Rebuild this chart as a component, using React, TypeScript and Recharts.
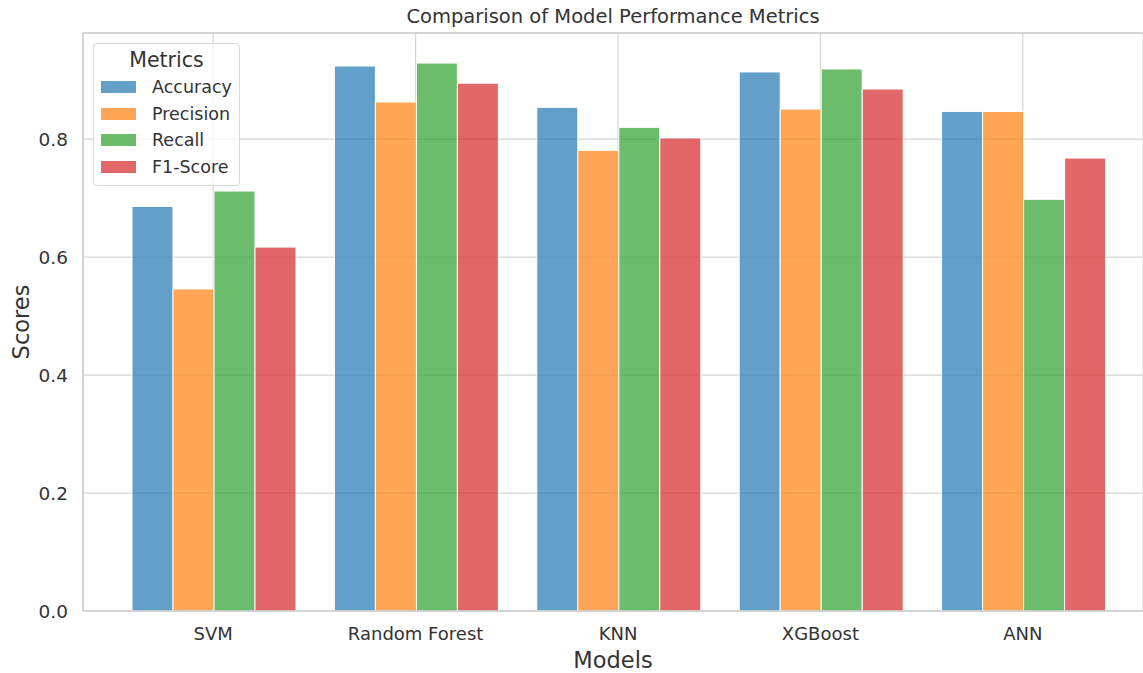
import React from 'react';
import { BarChart, Bar, XAxis, YAxis, CartesianGrid, ReferenceLine } from 'recharts';

const models = ['SVM', 'Random Forest', 'KNN', 'XGBoost', 'ANN'];
const accuracy = [0.686, 0.924, 0.854, 0.914, 0.847];
const precision = [0.546, 0.863, 0.781, 0.851, 0.847];
const recall = [0.712, 0.929, 0.820, 0.919, 0.698];
const f1Score = [0.617, 0.895, 0.802, 0.885, 0.768];
const yTicks = [0, 0.2, 0.4, 0.6, 0.8];

const metrics = [
    { key: 'Accuracy', color: '#1f77b4' },
    { key: 'Precision', color: '#ff7f0e' },
    { key: 'Recall', color: '#2ca02c' },
    { key: 'F1-Score', color: '#d62728' },
];

const data = models.map((model, i) => ({
    model,
    Accuracy: accuracy[i],
    Precision: precision[i],
    Recall: recall[i],
    'F1-Score': f1Score[i],
}));

const FONT = '"DejaVu Sans", sans-serif';

// rotated y label, placed by hand so it does not hug the page edge
const ScoresLabel = (props: any) => {
    const vb = props.viewBox || { x: 0, y: 33, width: 83, height: 578 };
    const cx = 21;
    const cy = vb.y + vb.height / 2;
    return (
        <text
            x={cx}
            y={cy}
            transform={`rotate(-90, ${cx}, ${cy})`}
            textAnchor="middle"
            dominantBaseline="central"
            fontSize={22.5}
            fill="#333"
            fontFamily={FONT}
        >
            Scores
        </text>
    );
};

// legend box drawn on top of the plot, upper left like the matplotlib one
const MetricsLegend = () => (
    <div
        style={{
            position: 'absolute',
            left: 93,
            top: 43,
            width: 147,
            height: 143,
            boxSizing: 'border-box',
            border: '1px solid #d9d9d9',
            borderRadius: 4,
            background: 'rgba(255,255,255,0.8)',
            padding: '4px 0 0 7px',
            fontFamily: FONT,
            color: '#333',
        }}
    >
        <div style={{ textAlign: 'center', fontSize: 20.5, marginBottom: 2, paddingRight: 7 }}>Metrics</div>
        {metrics.map((m) => (
            <div key={m.key} style={{ display: 'flex', alignItems: 'center', height: 26.5, fontSize: 17.5 }}>
                <span
                    style={{
                        display: 'inline-block',
                        width: 35,
                        height: 12,
                        background: m.color,
                        opacity: 0.7,
                        marginRight: 16,
                    }}
                />
                {m.key}
            </div>
        ))}
    </div>
);

const App: React.FC = () => {
    return (
        <div style={{ position: 'absolute', left: 0, top: 0, width: 1143, height: 673, background: '#fff', fontFamily: FONT }}>
            <div
                style={{
                    position: 'absolute',
                    top: 5,
                    left: 83,
                    width: 1060,
                    textAlign: 'center',
                    fontSize: 19.5,
                    color: '#333',
                }}
            >
                Comparison of Model Performance Metrics
            </div>
            <BarChart
                width={1143}
                height={673}
                data={data}
                margin={{ top: 33, right: 0, left: 0, bottom: 0 }}
                barCategoryGap={20}
                barGap={0}
            >
                <CartesianGrid stroke="#d5d5d5" strokeWidth={1.2} vertical horizontal />
                <XAxis
                    dataKey="model"
                    height={62}
                    padding={{ left: 29, right: 19 }}
                    axisLine={{ stroke: '#cccccc', strokeWidth: 1.5 }}
                    tickLine={false}
                    tick={{ fontSize: 18, fill: '#333', fontFamily: FONT }}
                    dy={8}
                    label={{ value: 'Models', position: 'insideBottom', offset: 5, fontSize: 22.5, fill: '#333', fontFamily: FONT }}
                />
                <YAxis
                    width={83}
                    domain={[0, 0.98]}
                    ticks={yTicks}
                    allowDataOverflow
                    axisLine={{ stroke: '#cccccc', strokeWidth: 1.5 }}
                    tickLine={false}
                    tickFormatter={(v: number) => v.toFixed(1)}
                    tick={{ fontSize: 18.5, fill: '#333', fontFamily: FONT }}
                    dx={-7}
                    label={<ScoresLabel />}
                />
                <ReferenceLine y={0.98} stroke="#cccccc" strokeWidth={1.5} />
                {metrics.map((m) => (
                    <Bar
                        key={m.key}
                        dataKey={m.key}
                        fill={m.color}
                        fillOpacity={0.7}
                        stroke="#ffffff"
                        strokeWidth={1}
                        isAnimationActive={false}
                    />
                ))}
            </BarChart>
            <MetricsLegend />
        </div>
    );
};

export default App;
